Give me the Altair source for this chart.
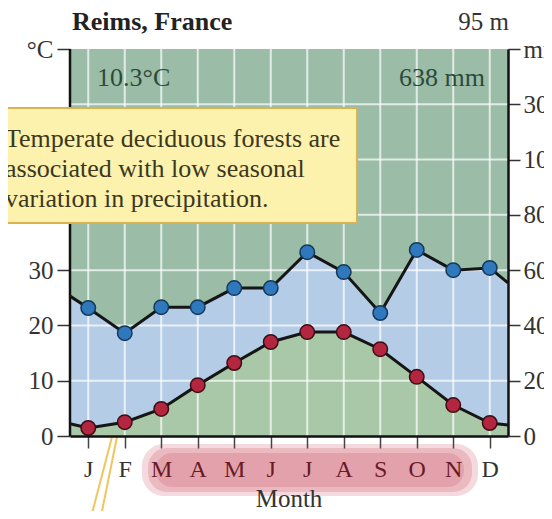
import altair as alt
import pandas as pd

# ---------------- data ----------------
months = ["J", "F", "M", "A", "M", "J", "J", "A", "S", "O", "N", "D"]
month_index = list(range(1, 13))
temp_c = [1.45, 2.5, 4.9, 9.2, 13.2, 17.0, 18.8, 18.8, 15.7, 10.7, 5.6, 2.35]
precip_mm = [46.3, 37.2, 46.6, 46.6, 53.5, 53.5, 66.5, 59.3, 44.5, 67.3, 60.0, 60.8]
temp_edges_c = [2.2, 2.0]          # line values at the left / right plot edges
precip_edges_mm = [50.6, 55.4]
edge_positions = [0.5, 12.5]

left_ticks = [0, 10, 20, 30, 40, 50, 70]
right_ticks = [0, 10, 20, 30, 40, 50, 60, 70]
right_labels = ["0", "20", "40", "60", "80", "100", "300", "mm"]
grid_levels = [10, 20, 30, 40, 50, 60]

title_text = "Reims, France"
elevation_text = "95 m"
mean_temp_text = "10.3°C"
total_precip_text = "638 mm"
note_lines = ["Temperate deciduous forests are",
              "associated with low seasonal",
              "variation in precipitation."]
x_title = "Month"


def mm_to_scale(mm):
    # Walter-Lieth convention: 20 mm = 10 °C, 1/10 compression above 100 mm
    return mm / 2 if mm <= 100 else 50 + (mm - 100) / 20


# ---------------- tables ----------------
xs_line = [edge_positions[0]] + month_index + [edge_positions[1]]
temp_line = pd.DataFrame({"x": xs_line,
                          "y": [temp_edges_c[0]] + temp_c + [temp_edges_c[1]]})
prec_line = pd.DataFrame({"x": xs_line,
                          "y": [mm_to_scale(v) for v in
                                [precip_edges_mm[0]] + precip_mm + [precip_edges_mm[1]]]})
temp_pts = pd.DataFrame({"x": month_index, "y": temp_c})
prec_pts = pd.DataFrame({"x": month_index, "y": [mm_to_scale(v) for v in precip_mm]})
vgrid = pd.DataFrame({"x": month_index})
hgrid = pd.DataFrame({"y": grid_levels})
left_line = pd.DataFrame({"x": [edge_positions[0]], "y": [0], "y2": [70]})
one = pd.DataFrame({"a": [0]})

SERIF = "Liberation Serif"
xscale = alt.Scale(domain=[0.5, 12.5], nice=False, zero=False)
yscale = alt.Scale(domain=[0, 70], nice=False, zero=True)

month_js = "[" + ",".join("'%s'" % m for m in months) + "]"
right_js = "[" + ",".join("'%s'" % m for m in right_labels) + "]"

xaxis = alt.Axis(values=month_index, labelExpr=month_js + "[datum.value-1]",
                 title=None, grid=False, tickSize=12, tickWidth=1.5, tickColor="#444",
                 domainColor="#111", domainWidth=2.5, labelFont=SERIF, labelFontSize=24,
                 labelPadding=9,
                 labelColor={"condition": {"test": "datum.value>=3 && datum.value<=11",
                                           "value": "#6a1a26"},
                             "value": "#333333"},
                 zindex=1)
# labels 40 and 50 sit under the note box in the reference, so they are left blank
yaxis_left = alt.Axis(values=left_ticks, orient="left", title=None, grid=False,
                      domain=False, tickSize=13, tickWidth=1.5, tickColor="#333",
                      labelFont=SERIF, labelFontSize=25, labelColor="#333", labelPadding=4,
                      labelExpr="datum.value==70 ? '°C' : (datum.value>=40 ? '' : datum.label)",
                      zindex=0)
yaxis_right = alt.Axis(values=right_ticks, orient="right", title=None, grid=False,
                       domainColor="#111", domainWidth=2.5, tickSize=12, tickWidth=1.5,
                       tickColor="#333", labelFont=SERIF, labelFontSize=25,
                       labelColor="#333", labelPadding=3,
                       labelExpr=right_js + "[datum.value/10]", zindex=1)


def X():
    return alt.X("x:Q", scale=xscale, axis=xaxis)


def Y(axis=None):
    return alt.Y("y:Q", scale=yscale, axis=axis)


# ---------------- layers ----------------
prec_area = alt.Chart(prec_line).mark_area(color="#b4cce6", opacity=1).encode(
    x=X(), y=Y(yaxis_right))
temp_area = alt.Chart(temp_line).mark_area(color="#a8c8a7", opacity=1).encode(
    x=X(), y=Y(yaxis_left))
vgrid_l = alt.Chart(vgrid).mark_rule(color="white", opacity=0.7, strokeWidth=2).encode(x=X())
hgrid_l = alt.Chart(hgrid).mark_rule(color="white", opacity=0.7, strokeWidth=2).encode(y=Y())
left_axis_line = alt.Chart(left_line).mark_rule(color="#111", strokeWidth=2.5).encode(
    x=X(), y=Y(), y2="y2:Q")
prec_ln = alt.Chart(prec_line).mark_line(color="#151515", strokeWidth=3).encode(x=X(), y=Y())
temp_ln = alt.Chart(temp_line).mark_line(color="#151515", strokeWidth=3).encode(x=X(), y=Y())
prec_pt = alt.Chart(prec_pts).mark_point(filled=True, shape="circle", size=210,
                                         fill="#2f78bb", stroke="#14385a", strokeWidth=1.5,
                                         opacity=1).encode(x=X(), y=Y())
temp_pt = alt.Chart(temp_pts).mark_point(filled=True, shape="circle", size=210,
                                         fill="#b22640", stroke="#3d0d15", strokeWidth=1.5,
                                         opacity=1).encode(x=X(), y=Y())

title_t = alt.Chart(one).mark_text(text=title_text, font=SERIF, fontSize=26, fontWeight="bold",
                                   color="#222", align="left", baseline="middle").encode(
    x=alt.value(2), y=alt.value(-27))
elev_t = alt.Chart(one).mark_text(text=elevation_text, font=SERIF, fontSize=25, color="#333",
                                  align="right", baseline="middle").encode(
    x=alt.value(439), y=alt.value(-27))
mean_t = alt.Chart(one).mark_text(text=mean_temp_text, font=SERIF, fontSize=26, color="#2c4a3a",
                                  align="left", baseline="middle").encode(
    x=alt.value(27), y=alt.value(29))
tot_t = alt.Chart(one).mark_text(text=total_precip_text, font=SERIF, fontSize=26, color="#2c4a3a",
                                 align="right", baseline="middle").encode(
    x=alt.value(415), y=alt.value(29))

note_box = alt.Chart(one).mark_rect(fill="#fdf1ae", stroke="#dcb24e", strokeWidth=2).encode(
    x=alt.value(-70), x2=alt.value(287), y=alt.value(59), y2=alt.value(174))
note_t = alt.Chart(one).mark_text(text=note_lines, font=SERIF, fontSize=26, lineHeight=30,
                                  color="#3b3820", align="left", baseline="alphabetic").encode(
    x=alt.value(-65), y=alt.value(98))

# soft, blurred-looking pink highlight behind the M..N labels
band_1 = alt.Chart(one).mark_rect(fill="#f3d6da", cornerRadius=22, opacity=0.9).encode(
    x=alt.value(72), x2=alt.value(408), y=alt.value(395), y2=alt.value(447))
band_2 = alt.Chart(one).mark_rect(fill="#eab5bc", cornerRadius=19, opacity=0.9).encode(
    x=alt.value(78), x2=alt.value(402), y=alt.value(399), y2=alt.value(443))
band_3 = alt.Chart(one).mark_rect(fill="#e29ea7", cornerRadius=16, opacity=0.85).encode(
    x=alt.value(86), x2=alt.value(394), y=alt.value(404), y2=alt.value(438))
month_t = alt.Chart(one).mark_text(text=x_title, font=SERIF, fontSize=25, color="#333",
                                   align="center", baseline="middle").encode(
    x=alt.value(219), y=alt.value(450))
callout1 = alt.Chart(one).mark_rule(color="#f0c560", strokeWidth=2).encode(
    x=alt.value(42), x2=alt.value(20), y=alt.value(388), y2=alt.value(472))
callout2 = alt.Chart(one).mark_rule(color="#f0c560", strokeWidth=2).encode(
    x=alt.value(47), x2=alt.value(30), y=alt.value(388), y2=alt.value(472))

chart = alt.layer(
    prec_area, temp_area, vgrid_l, hgrid_l, left_axis_line,
    band_1, band_2, band_3,
    prec_ln, temp_ln, prec_pt, temp_pt,
    title_t, elev_t, mean_t, tot_t,
    note_box, note_t, month_t, callout1, callout2,
).resolve_scale(y="shared").resolve_axis(y="independent").properties(
    width=438, height=387,
    padding={"left": 62, "top": 41, "right": 36, "bottom": 75},
    autosize="none",
    background="white",
).configure_view(fill="#9bbda7", stroke=None)

chart.save("out.html", embed_options={"renderer": "svg", "actions": False})
